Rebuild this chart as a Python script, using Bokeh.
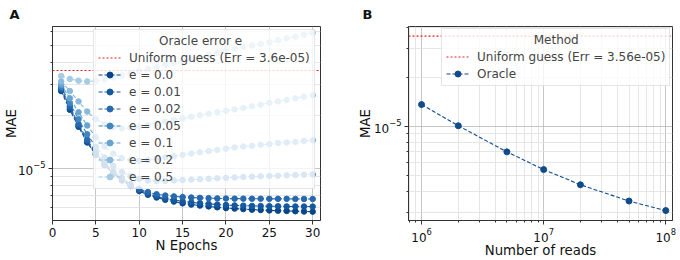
from bokeh.plotting import figure
from bokeh.layouts import row
from bokeh.models import Range1d, FixedTicker, LogTickFormatter, Legend, LegendItem, Span
from bokeh.embed import file_html
from bokeh.resources import INLINE

# ---- Panel A: MAE vs training epochs for several oracle error rates ----
epochs = list(range(1, 31))
oracle_errors = ["0.0", "0.01", "0.02", "0.05", "0.1", "0.2", "0.5"]

mae_e000 = [2.75e-5, 2.15e-5, 1.72e-5, 1.40e-5, 1.19e-5, 1.04e-5, 9.3e-6, 8.5e-6, 7.9e-6, 7.4e-6,
            7.05e-6, 6.8e-6, 6.6e-6, 6.45e-6, 6.3e-6, 6.2e-6, 6.12e-6, 6.05e-6, 5.98e-6, 5.92e-6,
            5.88e-6, 5.84e-6, 5.8e-6, 5.77e-6, 5.74e-6, 5.72e-6, 5.7e-6, 5.68e-6, 5.66e-6, 5.65e-6]
mae_e001 = [2.8e-5, 2.2e-5, 1.75e-5, 1.42e-5, 1.2e-5, 1.05e-5, 9.4e-6, 8.6e-6, 8.0e-6, 7.5e-6,
            7.15e-6, 6.9e-6, 6.72e-6, 6.58e-6, 6.47e-6, 6.38e-6, 6.31e-6, 6.25e-6, 6.2e-6, 6.16e-6,
            6.13e-6, 6.11e-6, 6.09e-6, 6.08e-6, 6.07e-6, 6.06e-6, 6.05e-6, 6.05e-6, 6.04e-6, 6.04e-6]
mae_e002 = [2.85e-5, 2.25e-5, 1.78e-5, 1.45e-5, 1.22e-5, 1.07e-5, 9.6e-6, 8.8e-6, 8.1e-6, 7.6e-6,
            7.3e-6, 7.1e-6, 6.98e-6, 6.9e-6, 6.84e-6, 6.8e-6, 6.77e-6, 6.74e-6, 6.72e-6, 6.71e-6,
            6.7e-6, 6.7e-6, 6.69e-6, 6.69e-6, 6.68e-6, 6.68e-6, 6.68e-6, 6.67e-6, 6.67e-6, 6.67e-6]
mae_e005 = [2.92e-5, 2.35e-5, 1.9e-5, 1.56e-5, 1.32e-5, 1.15e-5, 1.03e-5, 9.5e-6, 9.0e-6, 8.7e-6,
            8.5e-6, 8.45e-6, 8.45e-6, 8.5e-6, 8.55e-6, 8.6e-6, 8.65e-6, 8.7e-6, 8.75e-6, 8.8e-6,
            8.85e-6, 8.9e-6, 8.94e-6, 8.98e-6, 9.02e-6, 9.06e-6, 9.1e-6, 9.13e-6, 9.17e-6, 9.2e-6]
mae_e010 = [3.0e-5, 2.5e-5, 2.08e-5, 1.75e-5, 1.5e-5, 1.33e-5, 1.21e-5, 1.14e-5, 1.11e-5, 1.1e-5,
            1.11e-5, 1.13e-5, 1.15e-5, 1.17e-5, 1.19e-5, 1.21e-5, 1.23e-5, 1.25e-5, 1.27e-5, 1.29e-5,
            1.31e-5, 1.33e-5, 1.34e-5, 1.36e-5, 1.37e-5, 1.39e-5, 1.4e-5, 1.41e-5, 1.43e-5, 1.44e-5]
mae_e020 = [3.12e-5, 2.75e-5, 2.4e-5, 2.1e-5, 1.9e-5, 1.78e-5, 1.71e-5, 1.68e-5, 1.69e-5, 1.72e-5,
            1.76e-5, 1.8e-5, 1.84e-5, 1.88e-5, 1.92e-5, 1.96e-5, 2.0e-5, 2.04e-5, 2.08e-5, 2.12e-5,
            2.16e-5, 2.2e-5, 2.25e-5, 2.3e-5, 2.35e-5, 2.4e-5, 2.45e-5, 2.5e-5, 2.55e-5, 2.6e-5]
mae_e050 = [3.35e-5, 3.22e-5, 3.15e-5, 3.12e-5, 3.14e-5, 3.2e-5, 3.28e-5, 3.37e-5, 3.47e-5, 3.57e-5,
            3.67e-5, 3.77e-5, 3.88e-5, 3.98e-5, 4.08e-5, 4.18e-5, 4.3e-5, 4.42e-5, 4.54e-5, 4.66e-5,
            4.78e-5, 4.9e-5, 5.0e-5, 5.1e-5, 5.22e-5, 5.35e-5, 5.5e-5, 5.62e-5, 5.75e-5, 5.9e-5]
uniform_err_a = 3.6e-5

# ---- Panel B: oracle MAE vs sequencing depth ----
reads = [1e6, 2e6, 5e6, 1e7, 2e7, 5e7, 1e8]
mae_oracle = [1.36e-5, 1.01e-5, 7.0e-6, 5.46e-6, 4.41e-6, 3.51e-6, 3.07e-6]
uniform_err_b = 3.56e-5

epoch_ticks = [0, 5, 10, 15, 20, 25, 30]

FONT = "DejaVu Sans"
NBSP = "\u00a0"
blues = ["#08468b", "#1458a0", "#2669ae", "#3f86c0", "#67a4d2", "#89badd", "#a6cbe4"]
navy = "#104b8c"
red = "#ee1c1c"
series_a = [mae_e000, mae_e001, mae_e002, mae_e005, mae_e010, mae_e020, mae_e050]


def style(p, letter_offset):
    # panel letter drawn as a compact bold title in the top-left margin
    p.title.text_font = FONT
    p.title.text_font_size = "13px"
    p.title.text_font_style = "bold"
    p.title.text_color = "#111111"
    p.title.text_line_height = 0.7
    p.title.align = "left"
    p.title.offset = letter_offset
    p.title.standoff = 9
    p.outline_line_color = "#333333"
    p.outline_line_width = 1
    for ax in (p.xaxis[0], p.yaxis[0]):
        ax.axis_line_color = "#333333"
        ax.major_tick_line_color = "#333333"
        ax.minor_tick_line_color = "#333333"
        ax.major_tick_in = 0
        ax.major_tick_out = 4
        ax.minor_tick_in = 0
        ax.minor_tick_out = 2
        ax.major_label_text_font = FONT
        ax.major_label_text_font_size = "12px"
        ax.major_label_text_color = "#111111"
        ax.major_label_text_line_height = 1.0
        ax.axis_label_text_font = FONT
        ax.axis_label_text_font_size = "13.3px"
        ax.axis_label_text_font_style = "normal"
        ax.axis_label_text_color = "#111111"
        ax.axis_label_text_line_height = 1.0
        ax.major_label_standoff = 3
        ax.axis_label_standoff = -2
    p.grid.grid_line_color = "#b8b8b8"
    p.grid.grid_line_width = 0.8


def uniform_line(p, err, x_any, label):
    p.add_layout(Span(location=err, dimension="width", line_color=red,
                      line_width=1.2, line_dash="2 2"))
    # single-point glyph (draws nothing) that supplies the legend entry for the span
    proxy = p.line(x=[x_any], y=[err], line_color=red, line_width=1.2, line_dash="2 2")
    return LegendItem(label=label, renderers=[proxy])


def make_legend(items, title, loc):
    return Legend(
        items=items, location=loc, title=title,
        title_text_font=FONT, title_text_font_size="12px", title_text_font_style="normal",
        title_standoff=2,
        label_text_font=FONT, label_text_font_size="12px",
        glyph_width=23, glyph_height=15, label_height=15, spacing=2,
        padding=4, margin=0, label_standoff=8,
        background_fill_color="white", background_fill_alpha=0.8,
        border_line_color="#cccccc", border_line_width=1,
    )


# ---------------- Panel A ----------------
pa = figure(width=340, height=260, title="A", y_axis_type="log",
            x_range=Range1d(0, 30.9), y_range=Range1d(5.03e-6, 6.41e-5),
            output_backend="svg", toolbar_location=None,
            min_border_left=51, min_border_right=20, min_border_top=25, min_border_bottom=35)
style(pa, -43)
pa.yaxis.axis_label_standoff = -4
pa.xaxis.ticker = FixedTicker(ticks=epoch_ticks)
pa.xaxis.minor_tick_out = 0
pa.yaxis.ticker = FixedTicker(ticks=[1e-5],
                              minor_ticks=[5e-6, 6e-6, 7e-6, 8e-6, 9e-6, 2e-5, 3e-5, 4e-5, 5e-5, 6e-5])
pa.yaxis.formatter = LogTickFormatter()
pa.ygrid.minor_grid_line_color = "#e0e0e0"
pa.ygrid.minor_grid_line_width = 0.8
pa.xaxis.axis_label = "N Epochs"
pa.yaxis.axis_label = "MAE"

items_a = [uniform_line(pa, uniform_err_a, epochs[0], "Uniform guess (Err = 3.6e-05)")]
for lab, vals, col in zip(oracle_errors, series_a, blues):
    ln = pa.line(epochs, vals, line_color=col, line_width=1.1, line_dash="4 2")
    sc = pa.scatter(epochs, vals, size=5.5, fill_color=col, line_color=col)
    items_a.append(LegendItem(label=f"e = {lab}", renderers=[ln, sc]))
# legend titles are centred over the entries with leading no-break spaces
pa.add_layout(make_legend(items_a, NBSP * 16 + "Oracle error e", (41, 31)))

# ---------------- Panel B ----------------
pb = figure(width=340, height=260, title="B", x_axis_type="log", y_axis_type="log",
            x_range=Range1d(7.82e5, 1.135e8), y_range=Range1d(2.67e-6, 4.07e-5),
            output_backend="svg", toolbar_location=None,
            min_border_left=68, min_border_right=8, min_border_top=25, min_border_bottom=35)
style(pb, -46)
pb.xaxis.ticker = FixedTicker(
    ticks=[1e6, 1e7, 1e8],
    minor_ticks=[k * 10 ** d for d in (5, 6, 7) for k in range(2, 10)])
pb.xaxis.formatter = LogTickFormatter()
pb.yaxis.ticker = FixedTicker(
    ticks=[1e-5],
    minor_ticks=[3e-6, 4e-6, 5e-6, 6e-6, 7e-6, 8e-6, 9e-6, 2e-5, 3e-5, 4e-5])
pb.yaxis.formatter = LogTickFormatter()
pb.grid.minor_grid_line_color = "#e0e0e0"
pb.grid.minor_grid_line_width = 0.8
pb.xaxis.axis_label = "Number of reads"
pb.yaxis.axis_label = "MAE"

items_b = [uniform_line(pb, uniform_err_b, reads[0], "Uniform guess (Err = 3.56e-05)")]
lb = pb.line(reads, mae_oracle, line_color=navy, line_width=1.1, line_dash="4 2")
sb = pb.scatter(reads, mae_oracle, size=6, fill_color=navy, line_color=navy)
items_b.append(LegendItem(label="Oracle", renderers=[lb, sb]))
pb.add_layout(make_legend(items_b, NBSP * 23 + "Method", (33, 134)))

layout = row(pa, pb)
open("out.html", "w").write(file_html(layout, INLINE))
